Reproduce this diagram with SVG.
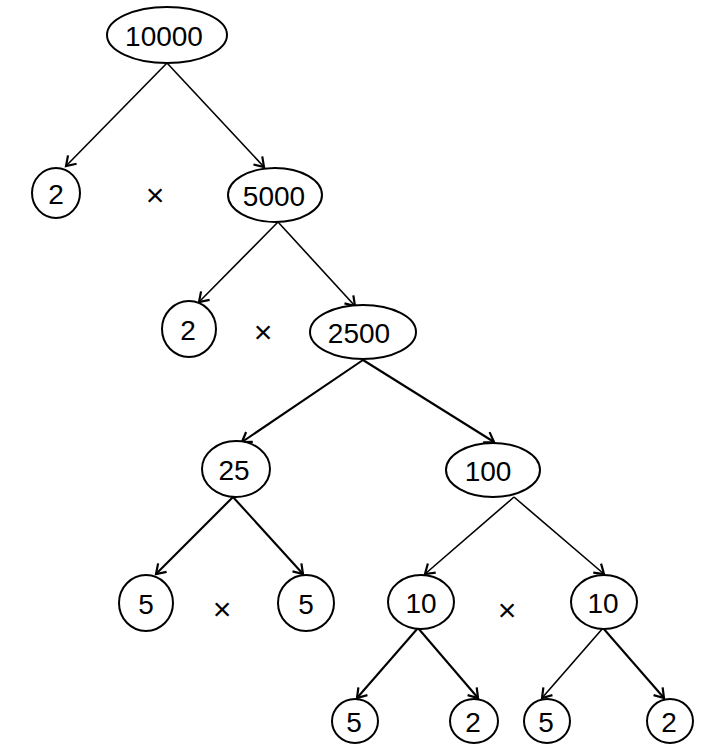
<svg xmlns="http://www.w3.org/2000/svg" width="719" height="752" viewBox="0 0 719 752">
<style>
.n{fill:#fff;stroke:#000;stroke-width:2}
.t{font-family:"Liberation Sans",Arial,sans-serif;font-size:28px;fill:#000;text-anchor:middle;dominant-baseline:central}
.x{font-family:"Liberation Sans",Arial,sans-serif;font-size:32px;fill:#000;text-anchor:middle;dominant-baseline:central}
.e{fill:none;stroke:#000;stroke-width:1.6}
.th{stroke-width:2.1}
</style>
<defs>
<marker id="a" markerUnits="userSpaceOnUse" markerWidth="20" markerHeight="20" refX="10" refY="10" orient="auto">
<path d="M1,4 L10,10 L1,16" fill="none" stroke="#000" stroke-width="2.2"/>
</marker>
</defs>
<g id="connectors">
<line class="e" x1="167" y1="63" x2="66" y2="166" marker-end="url(#a)"/>
<line class="e" x1="167" y1="63" x2="264" y2="167" marker-end="url(#a)"/>
<line class="e" x1="278" y1="222" x2="199" y2="302" marker-end="url(#a)"/>
<line class="e" x1="278" y1="222" x2="355" y2="306" marker-end="url(#a)"/>
<line class="e th" x1="363" y1="360" x2="242" y2="442" marker-end="url(#a)"/>
<line class="e th" x1="363" y1="360" x2="494" y2="442" marker-end="url(#a)"/>
<line class="e th" x1="233" y1="497" x2="156" y2="574" marker-end="url(#a)"/>
<line class="e th" x1="233" y1="497" x2="303" y2="574" marker-end="url(#a)"/>
<line class="e" x1="514" y1="497" x2="425" y2="574" marker-end="url(#a)"/>
<line class="e" x1="514" y1="497" x2="604" y2="574" marker-end="url(#a)"/>
<line class="e th" x1="418" y1="628" x2="357" y2="698" marker-end="url(#a)"/>
<line class="e th" x1="418" y1="628" x2="478" y2="698" marker-end="url(#a)"/>
<line class="e" x1="603" y1="628" x2="542" y2="698" marker-end="url(#a)"/>
<line class="e th" x1="603" y1="628" x2="664" y2="698" marker-end="url(#a)"/>
</g>
<g id="n10000"><ellipse class="n" cx="167" cy="35" rx="60" ry="28"/><text class="t" x="164" y="36">10000</text></g>
<g id="n2a"><ellipse class="n" cx="56" cy="193" rx="24" ry="25"/><text class="t" x="56" y="194">2</text></g>
<g id="x1"><text class="x" x="155" y="195">×</text></g>
<g id="n5000"><ellipse class="n" cx="275" cy="195" rx="47" ry="27"/><text class="t" x="274" y="196">5000</text></g>
<g id="n2b"><ellipse class="n" cx="189" cy="329" rx="27" ry="28"/><text class="t" x="188" y="330">2</text></g>
<g id="x2"><text class="x" x="263" y="332">×</text></g>
<g id="n2500"><ellipse class="n" cx="363" cy="332" rx="53" ry="27"/><text class="t" x="359" y="333">2500</text></g>
<g id="n25"><ellipse class="n" cx="236" cy="469" rx="34" ry="28"/><text class="t" x="234" y="470">25</text></g>
<g id="n100"><ellipse class="n" cx="493" cy="470" rx="47" ry="27"/><text class="t" x="488" y="471">100</text></g>
<g id="n5a"><ellipse class="n" cx="146" cy="603" rx="27" ry="28"/><text class="t" x="146" y="604">5</text></g>
<g id="x3"><text class="x" x="222" y="609">×</text></g>
<g id="n5b"><ellipse class="n" cx="306" cy="603" rx="28" ry="28"/><text class="t" x="306" y="604">5</text></g>
<g id="n10a"><ellipse class="n" cx="421" cy="602" rx="33" ry="27"/><text class="t" x="421" y="603">10</text></g>
<g id="x4"><text class="x" x="507" y="610">×</text></g>
<g id="n10b"><ellipse class="n" cx="604" cy="602" rx="33" ry="27"/><text class="t" x="603" y="603">10</text></g>
<g id="n5c"><ellipse class="n" cx="355" cy="721" rx="23" ry="22"/><text class="t" x="354" y="722">5</text></g>
<g id="n2c"><ellipse class="n" cx="474" cy="721" rx="24" ry="22"/><text class="t" x="473" y="722">2</text></g>
<g id="n5d"><ellipse class="n" cx="547" cy="721" rx="23" ry="22"/><text class="t" x="546" y="722">5</text></g>
<g id="n2d"><ellipse class="n" cx="670" cy="721" rx="23" ry="22"/><text class="t" x="669" y="722">2</text></g>
</svg>
